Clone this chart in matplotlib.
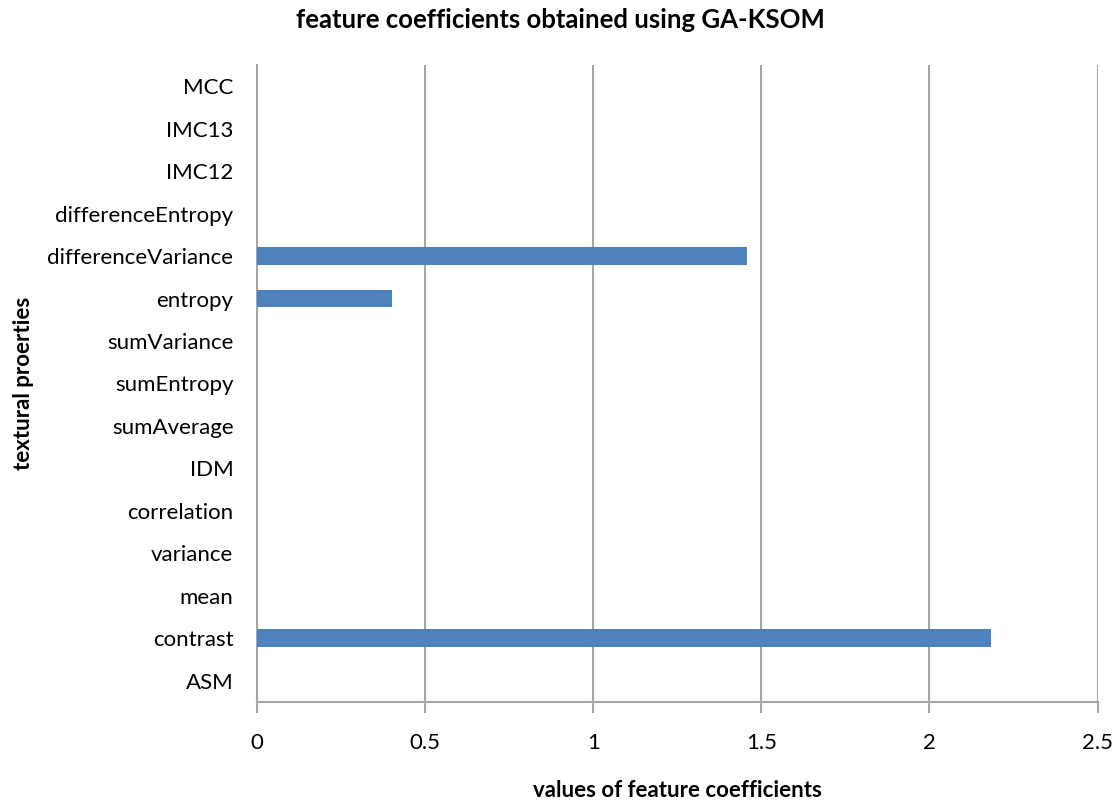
import matplotlib.pyplot as plt

# feature names (bottom to top) and their coefficients
features = ["ASM", "contrast", "mean", "variance", "correlation", "IDM",
            "sumAverage", "sumEntropy", "sumVariance", "entropy",
            "differenceVariance", "differenceEntropy", "IMC12", "IMC13", "MCC"]
coefficients = [0, 2.183, 0, 0, 0, 0, 0, 0, 0, 0.40, 1.458, 0, 0, 0, 0]
xticks = [0, 0.5, 1, 1.5, 2, 2.5]
xtick_labels = ["0", "0.5", "1", "1.5", "2", "2.5"]

plt.rcParams['font.family'] = ['Lato', 'DejaVu Sans']

fig = plt.figure(figsize=(11.2, 8.02), dpi=100)
ax = fig.add_axes([0.2295, 0.1247, 0.7505, 0.7943])

ypos = list(range(len(features)))
ax.barh(ypos, coefficients, height=0.42, color="#4F81BD", zorder=3)

ax.set_xlim(0, 2.5)
ax.set_ylim(-0.5, len(features) - 0.5)
ax.set_xticks(xticks)
ax.set_xticklabels(xtick_labels, fontsize=16)
ax.set_yticks(ypos)
ax.set_yticklabels(features, fontsize=16)

ax.grid(axis='x', color="#a6a6a6", linewidth=1.5, zorder=0)
for side in ['top', 'right']:
    ax.spines[side].set_visible(False)
for side in ['left', 'bottom']:
    ax.spines[side].set_color("#a6a6a6")
    ax.spines[side].set_linewidth(1.5)
ax.tick_params(axis='x', length=8, width=1.5, color="#a6a6a6", pad=14)
ax.tick_params(axis='y', length=0, pad=17)

fig.text(0.5, 0.975, "feature coefficients obtained using GA-KSOM",
         fontsize=18.5, weight="bold", ha="center", va="center")
ax.set_xlabel("values of feature coefficients", fontsize=16, weight="bold",
              labelpad=20)
ax.set_ylabel("textural proerties", fontsize=16, weight="bold", labelpad=10)

fig.savefig("out.png", dpi=100)
